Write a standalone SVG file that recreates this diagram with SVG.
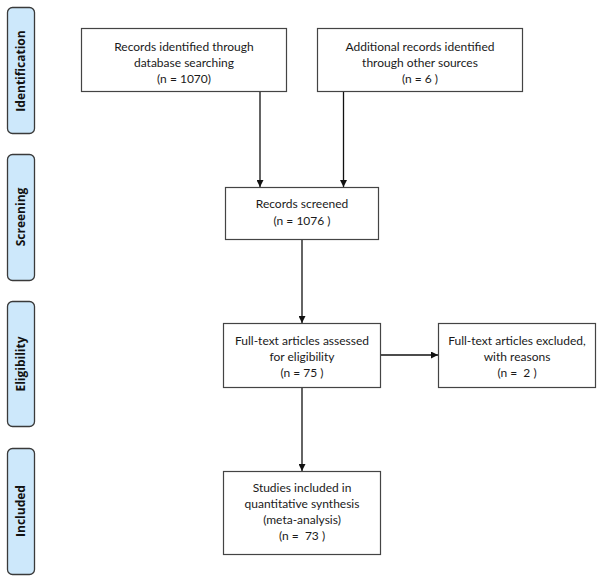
<svg xmlns="http://www.w3.org/2000/svg" width="600" height="580" viewBox="0 0 600 580">
<style>
.bar{fill:#cde8fb;stroke:#3a3a3a;stroke-width:1.3}
.bl{font-family:"Open Sans","Liberation Sans",sans-serif;font-weight:bold;font-size:12px;fill:#111;text-anchor:middle}
.box{fill:#fff;stroke:#444;stroke-width:1.2}
.t{font-family:Lato,"Liberation Sans",sans-serif;font-size:12px;fill:#1a1a1a;text-anchor:middle;white-space:pre}
.c{stroke:#111;stroke-width:1.3;fill:none}
</style>
<defs>
<marker id="ah" viewBox="0 0 10 10" refX="10" refY="5" markerWidth="7" markerHeight="7" markerUnits="userSpaceOnUse" orient="auto">
<path d="M0,0 L10,5 L0,10 z" fill="#111"/>
</marker>
</defs>
<rect width="600" height="580" fill="#fff"/>
<g id="stage-identification"><rect class="bar" x="7.5" y="7.5" width="27" height="126" rx="5"/><text class="bl" transform="translate(25,71) rotate(-90)">Identification</text></g>
<g id="stage-screening"><rect class="bar" x="7.5" y="154.5" width="27" height="126" rx="5"/><text class="bl" transform="translate(25,217) rotate(-90)">Screening</text></g>
<g id="stage-eligibility"><rect class="bar" x="7.5" y="301.5" width="27" height="125" rx="5"/><text class="bl" transform="translate(25,364) rotate(-90)">Eligibility</text></g>
<g id="stage-included"><rect class="bar" x="7.5" y="448.5" width="27" height="126" rx="5"/><text class="bl" transform="translate(25,511) rotate(-90)">Included</text></g>
<g id="connectors">
<line class="c" x1="260" y1="91" x2="260" y2="187" marker-end="url(#ah)"/>
<line class="c" x1="343.5" y1="91" x2="343.5" y2="187" marker-end="url(#ah)"/>
<line class="c" x1="302" y1="239" x2="302" y2="323" marker-end="url(#ah)"/>
<line class="c" x1="381" y1="355" x2="438" y2="355" marker-end="url(#ah)"/>
<line class="c" x1="302" y1="387" x2="302" y2="471" marker-end="url(#ah)"/>
</g>
<g id="db-records"><rect class="box" x="81.5" y="28.5" width="205" height="63"/><text class="t" x="184" y="51">Records identified through</text><text class="t" x="184" y="67">database searching</text><text class="t" x="184" y="83">(n = 1070)</text></g>
<g id="other-records"><rect class="box" x="317.5" y="28.5" width="205" height="63"/><text class="t" x="420" y="51">Additional records identified</text><text class="t" x="420" y="67">through other sources</text><text class="t" x="420" y="83">(n = 6 )</text></g>
<g id="screened"><rect class="box" x="225.5" y="187.5" width="153" height="52"/><text class="t" x="302" y="208">Records screened</text><text class="t" x="302" y="225">(n = 1076 )</text></g>
<g id="assessed"><rect class="box" x="223.5" y="323.5" width="157" height="64"/><text class="t" x="302" y="345">Full-text articles assessed</text><text class="t" x="302" y="361">for eligibility</text><text class="t" x="302" y="377">(n = 75 )</text></g>
<g id="excluded"><rect class="box" x="438.5" y="323.5" width="157" height="64"/><text class="t" x="517" y="345">Full-text articles excluded,</text><text class="t" x="517" y="361">with reasons</text><text class="t" x="517" y="377">(n =  2 )</text></g>
<g id="included"><rect class="box" x="223.5" y="471.5" width="157" height="83"/><text class="t" x="302" y="492">Studies included in</text><text class="t" x="302" y="508">quantitative synthesis</text><text class="t" x="302" y="524">(meta-analysis)</text><text class="t" x="302" y="540">(n =  73 )</text></g>
</svg>
